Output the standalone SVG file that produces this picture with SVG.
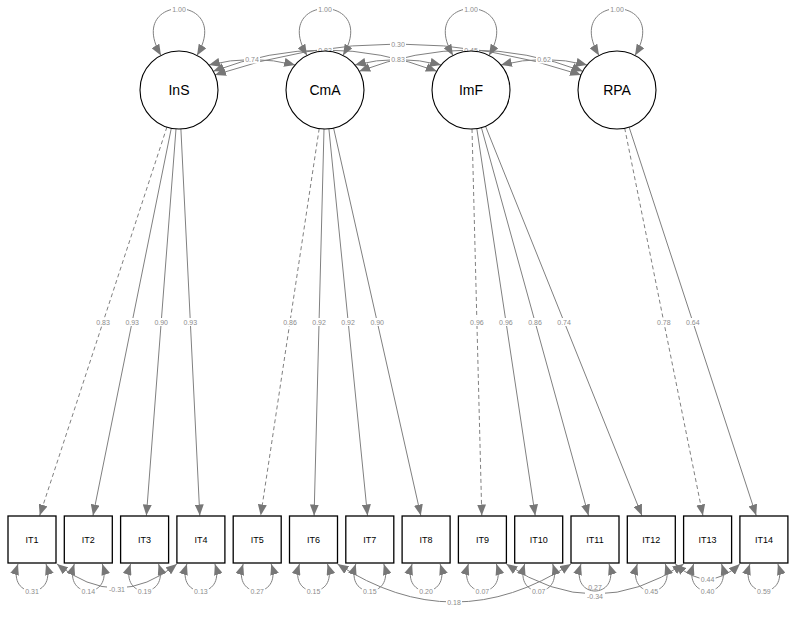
<svg xmlns="http://www.w3.org/2000/svg" width="800" height="617" viewBox="0 0 800 617">
<defs>
<marker id="ah" markerUnits="userSpaceOnUse" markerWidth="11" markerHeight="9" refX="11" refY="4.5" orient="auto-start-reverse"><path d="M0,0 L11,4.5 L0,9 z" fill="#777"/></marker>
</defs>
<style>
.e{fill:none;stroke:#808080;stroke-width:1}
.d{stroke-dasharray:4,3}
.a{marker-end:url(#ah)}
.b{marker-start:url(#ah);marker-end:url(#ah)}
.lb{fill:#fff}
.lt{font-family:"Liberation Sans",Arial,sans-serif;font-size:7px;fill:#8c8c8c;text-anchor:middle;dominant-baseline:central}
.lat circle{fill:#fff;stroke:#000;stroke-width:1.1}
.lat text{font-family:"Liberation Sans",Arial,sans-serif;font-size:14px;text-anchor:middle;dominant-baseline:central}
.man rect{fill:#fff;stroke:#000;stroke-width:1.3}
.man text{font-family:"Liberation Sans",Arial,sans-serif;font-size:9px;text-anchor:middle;dominant-baseline:central}
</style>
<rect width="800" height="617" fill="#fff"/>
<g id="connectors">
<path class="e b" d="M208.9 65 Q252 54 295.1 65"/>
<path class="e b" d="M354.9 65 Q398 54 441.1 65"/>
<path class="e b" d="M500.9 65 Q544 54 587.1 65"/>
<path class="e b" d="M213.2 71.3 Q325 28.7 436.8 71.3"/>
<path class="e b" d="M359.2 71.3 Q471 28.7 582.8 71.3"/>
<path class="e b" d="M215 74.9 Q398 13.1 581 74.9"/>
<rect class="lb" x="317" y="46" width="16" height="8"/><text class="lt" x="325" y="50">0.83</text>
<rect class="lb" x="463" y="46" width="16" height="8"/><text class="lt" x="471" y="50">0.45</text>
<path class="e b" d="M161 55.4 C124 -7 234 -7 197 55.4"/>
<path class="e b" d="M307 55.4 C270 -7 380 -7 343 55.4"/>
<path class="e b" d="M453 55.4 C416 -7 526 -7 489 55.4"/>
<path class="e b" d="M599 55.4 C562 -7 672 -7 635 55.4"/>
<rect class="lb" x="171" y="5" width="16" height="8"/><text class="lt" x="179" y="9">1.00</text>
<rect class="lb" x="317" y="5" width="16" height="8"/><text class="lt" x="325" y="9">1.00</text>
<rect class="lb" x="463" y="5" width="16" height="8"/><text class="lt" x="471" y="9">1.00</text>
<rect class="lb" x="609" y="5" width="16" height="8"/><text class="lt" x="617" y="9">1.00</text>
<rect class="lb" x="244" y="55.5" width="16" height="8"/><text class="lt" x="252" y="59.5">0.74</text>
<rect class="lb" x="390" y="55.5" width="16" height="8"/><text class="lt" x="398" y="59.5">0.83</text>
<rect class="lb" x="536" y="55.5" width="16" height="8"/><text class="lt" x="544" y="59.5">0.62</text>
<rect class="lb" x="390" y="40" width="16" height="8"/><text class="lt" x="398" y="44">0.30</text>
<path class="e d a" d="M166.9 127.1 L39.7 515.5"/>
<path class="e a" d="M171.3 128.2 L93 515.5"/>
<path class="e a" d="M176 128.9 L146.4 515.5"/>
<path class="e a" d="M180.9 129 L199.8 515.5"/>
<path class="e d a" d="M319.2 128.6 L260.7 515.5"/>
<path class="e a" d="M324 129 L314.1 515.5"/>
<path class="e a" d="M328.9 128.8 L367.5 515.5"/>
<path class="e a" d="M333.6 128.1 L420.8 515.5"/>
<path class="e d a" d="M472 129 L481.8 515.5"/>
<path class="e a" d="M476.8 128.6 L535.2 515.5"/>
<path class="e a" d="M481.4 127.6 L588.5 515.5"/>
<path class="e a" d="M485.5 126.2 L641.9 515.5"/>
<path class="e d a" d="M624.7 128.2 L702.9 515.5"/>
<path class="e a" d="M629.1 127.1 L756.2 515.5"/>
<rect class="lb" x="95.1" y="318" width="16" height="8"/><text class="lt" x="103.1" y="322">0.83</text>
<rect class="lb" x="124.2" y="318" width="16" height="8"/><text class="lt" x="132.2" y="322">0.93</text>
<rect class="lb" x="153.2" y="318" width="16" height="8"/><text class="lt" x="161.2" y="322">0.90</text>
<rect class="lb" x="182.3" y="318" width="16" height="8"/><text class="lt" x="190.3" y="322">0.93</text>
<rect class="lb" x="282" y="318" width="16" height="8"/><text class="lt" x="290" y="322">0.86</text>
<rect class="lb" x="311.1" y="318" width="16" height="8"/><text class="lt" x="319.1" y="322">0.92</text>
<rect class="lb" x="340.1" y="318" width="16" height="8"/><text class="lt" x="348.1" y="322">0.92</text>
<rect class="lb" x="369.2" y="318" width="16" height="8"/><text class="lt" x="377.2" y="322">0.90</text>
<rect class="lb" x="468.9" y="318" width="16" height="8"/><text class="lt" x="476.9" y="322">0.96</text>
<rect class="lb" x="497.9" y="318" width="16" height="8"/><text class="lt" x="505.9" y="322">0.96</text>
<rect class="lb" x="527" y="318" width="16" height="8"/><text class="lt" x="535" y="322">0.86</text>
<rect class="lb" x="556.1" y="318" width="16" height="8"/><text class="lt" x="564.1" y="322">0.74</text>
<rect class="lb" x="655.8" y="318" width="16" height="8"/><text class="lt" x="663.8" y="322">0.78</text>
<rect class="lb" x="684.8" y="318" width="16" height="8"/><text class="lt" x="692.8" y="322">0.64</text>
<path class="e b" d="M57 564 Q117 612 176.9 564"/>
<path class="e b" d="M337.5 564 Q454 640 571 564"/>
<path class="e b" d="M506.4 564 Q595 624 683.6 564"/>
<path class="e b" d="M675.3 564 Q707.6 594 739.9 564"/>
<rect class="lb" x="107" y="585" width="20" height="8"/><text class="lt" x="117" y="589">-0.31</text>
<rect class="lb" x="446" y="598" width="16" height="8"/><text class="lt" x="454" y="602">0.18</text>
<rect class="lb" x="585" y="592" width="20" height="8"/><text class="lt" x="595" y="596">-0.34</text>
<rect class="lb" x="699.6" y="575" width="16" height="8"/><text class="lt" x="707.6" y="579">0.44</text>
<path class="e b" d="M18 564 C6 600 58 600 46 564"/>
<path class="e b" d="M74.3 564 C62.3 600 114.3 600 102.3 564"/>
<path class="e b" d="M130.6 564 C118.6 600 170.6 600 158.6 564"/>
<path class="e b" d="M186.9 564 C174.9 600 226.9 600 214.9 564"/>
<path class="e b" d="M243.2 564 C231.2 600 283.2 600 271.2 564"/>
<path class="e b" d="M299.5 564 C287.5 600 339.5 600 327.5 564"/>
<path class="e b" d="M355.8 564 C343.8 600 395.8 600 383.8 564"/>
<path class="e b" d="M412.1 564 C400.1 600 452.1 600 440.1 564"/>
<path class="e b" d="M468.4 564 C456.4 600 508.4 600 496.4 564"/>
<path class="e b" d="M524.7 564 C512.7 600 564.7 600 552.7 564"/>
<path class="e b" d="M581 564 C569 600 621 600 609 564"/>
<path class="e b" d="M637.3 564 C625.3 600 677.3 600 665.3 564"/>
<path class="e b" d="M693.6 564 C681.6 600 733.6 600 721.6 564"/>
<path class="e b" d="M749.9 564 C737.9 600 789.9 600 777.9 564"/>
<rect class="lb" x="24" y="587" width="16" height="8"/><text class="lt" x="32" y="591">0.31</text>
<rect class="lb" x="80.3" y="587" width="16" height="8"/><text class="lt" x="88.3" y="591">0.14</text>
<rect class="lb" x="136.6" y="587" width="16" height="8"/><text class="lt" x="144.6" y="591">0.19</text>
<rect class="lb" x="192.9" y="587" width="16" height="8"/><text class="lt" x="200.9" y="591">0.13</text>
<rect class="lb" x="249.2" y="587" width="16" height="8"/><text class="lt" x="257.2" y="591">0.27</text>
<rect class="lb" x="305.5" y="587" width="16" height="8"/><text class="lt" x="313.5" y="591">0.15</text>
<rect class="lb" x="361.8" y="587" width="16" height="8"/><text class="lt" x="369.8" y="591">0.15</text>
<rect class="lb" x="418.1" y="587" width="16" height="8"/><text class="lt" x="426.1" y="591">0.20</text>
<rect class="lb" x="474.4" y="587" width="16" height="8"/><text class="lt" x="482.4" y="591">0.07</text>
<rect class="lb" x="530.7" y="587" width="16" height="8"/><text class="lt" x="538.7" y="591">0.07</text>
<text class="lt" x="595" y="587.5">0.27</text>
<rect class="lb" x="643.3" y="587" width="16" height="8"/><text class="lt" x="651.3" y="591">0.45</text>
<rect class="lb" x="699.6" y="587" width="16" height="8"/><text class="lt" x="707.6" y="591">0.40</text>
<rect class="lb" x="755.9" y="587" width="16" height="8"/><text class="lt" x="763.9" y="591">0.59</text>
</g>
<g id="InS" class="lat"><circle cx="179" cy="90" r="39"/><text x="179" y="90">InS</text></g>
<g id="CmA" class="lat"><circle cx="325" cy="90" r="39"/><text x="325" y="90">CmA</text></g>
<g id="ImF" class="lat"><circle cx="471" cy="90" r="39"/><text x="471" y="90">ImF</text></g>
<g id="RPA" class="lat"><circle cx="617" cy="90" r="39"/><text x="617" y="90">RPA</text></g>
<g id="IT1" class="man"><rect x="8" y="516" width="48" height="47"/><text x="32" y="540">IT1</text></g>
<g id="IT2" class="man"><rect x="64.3" y="516" width="48" height="47"/><text x="88.3" y="540">IT2</text></g>
<g id="IT3" class="man"><rect x="120.6" y="516" width="48" height="47"/><text x="144.6" y="540">IT3</text></g>
<g id="IT4" class="man"><rect x="176.9" y="516" width="48" height="47"/><text x="200.9" y="540">IT4</text></g>
<g id="IT5" class="man"><rect x="233.2" y="516" width="48" height="47"/><text x="257.2" y="540">IT5</text></g>
<g id="IT6" class="man"><rect x="289.5" y="516" width="48" height="47"/><text x="313.5" y="540">IT6</text></g>
<g id="IT7" class="man"><rect x="345.8" y="516" width="48" height="47"/><text x="369.8" y="540">IT7</text></g>
<g id="IT8" class="man"><rect x="402.1" y="516" width="48" height="47"/><text x="426.1" y="540">IT8</text></g>
<g id="IT9" class="man"><rect x="458.4" y="516" width="48" height="47"/><text x="482.4" y="540">IT9</text></g>
<g id="IT10" class="man"><rect x="514.7" y="516" width="48" height="47"/><text x="538.7" y="540">IT10</text></g>
<g id="IT11" class="man"><rect x="571" y="516" width="48" height="47"/><text x="595" y="540">IT11</text></g>
<g id="IT12" class="man"><rect x="627.3" y="516" width="48" height="47"/><text x="651.3" y="540">IT12</text></g>
<g id="IT13" class="man"><rect x="683.6" y="516" width="48" height="47"/><text x="707.6" y="540">IT13</text></g>
<g id="IT14" class="man"><rect x="739.9" y="516" width="48" height="47"/><text x="763.9" y="540">IT14</text></g>
</svg>
